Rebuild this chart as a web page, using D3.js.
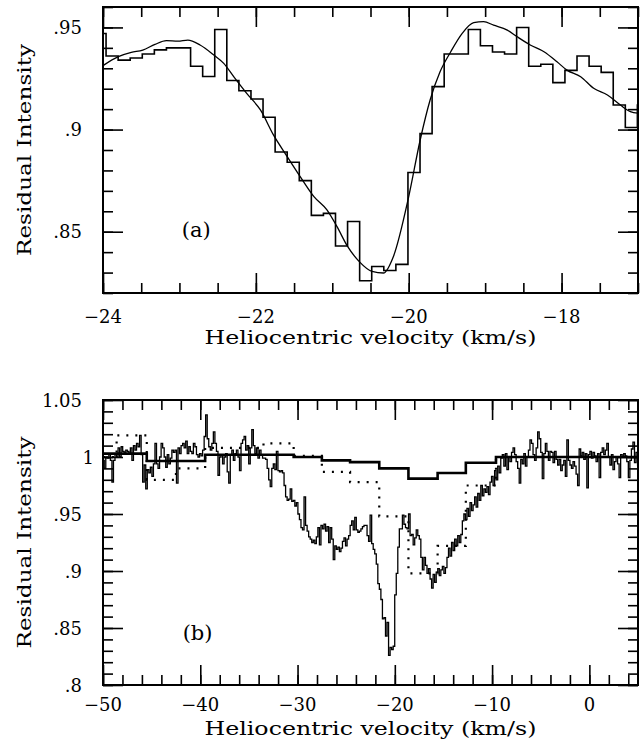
<!DOCTYPE html>
<html>
<head>
<meta charset="utf-8">
<script src="https://cdn.jsdelivr.net/npm/d3@7"></script>
<style>
body { margin: 0; background: #fff; }
svg { display: block; }
text { font-family: "DejaVu Serif", serif; fill: #000; }
</style>
</head>
<body>
<svg id="chart" width="640" height="740"></svg>
<script>
// observed spectrum: pixel left edges start at obsStart, one pixel = obsStep km/s
const obsStart = -50.03;
const obsStep = 0.158;
const obs = [
  0.997, 0.990, 1.000, 0.999, 1.003, 0.997, 0.978, 0.997, 1.003, 1.000,
  1.008, 1.000, 1.009, 1.005, 1.003, 1.006, 1.005, 1.003, 1.008, 0.997,
  1.010, 1.006, 1.012, 1.009, 1.019, 1.002, 0.978, 0.993, 0.972, 0.989,
  0.986, 0.991, 0.983, 0.994, 1.012, 0.994, 0.990, 1.000, 1.012, 1.008,
  1.000, 0.991, 1.002, 0.994, 0.999, 1.006, 1.004, 1.006, 0.977, 1.008,
  1.003, 1.010, 1.012, 1.008, 1.014, 1.003, 1.009, 1.005, 1.003, 1.012,
  1.009, 1.002, 1.000, 1.003, 1.001, 1.006, 1.018, 1.037, 1.016, 1.009,
  1.006, 1.012, 1.022, 1.012, 1.005, 0.984, 1.000, 1.002, 0.994, 1.000,
  1.003, 0.987, 0.977, 1.002, 1.006, 0.997, 1.003, 1.006, 1.000, 0.988,
  1.012, 1.015, 1.018, 1.006, 1.010, 0.994, 1.008, 1.024, 1.010, 1.003,
  1.008, 0.999, 1.006, 1.002, 0.999, 0.999, 0.998, 0.990, 0.980, 0.974,
  0.990, 0.994, 0.989, 1.005, 0.988, 0.987, 0.988, 0.986, 0.975, 0.965,
  0.962, 0.963, 0.972, 0.961, 0.962, 0.957, 0.960, 0.950, 0.945, 0.938,
  0.936, 0.965, 0.940, 0.935, 0.930, 0.928, 0.925, 0.927, 0.924, 0.930,
  0.938, 0.923, 0.940, 0.937, 0.941, 0.935, 0.939, 0.925, 0.938, 0.928,
  0.910, 0.922, 0.919, 0.921, 0.917, 0.920, 0.926, 0.929, 0.922, 0.928,
  0.931, 0.940, 0.944, 0.936, 0.947, 0.936, 0.934, 0.935, 0.937, 0.939,
  0.940, 0.940, 0.931, 0.926, 0.949, 0.924, 0.919, 0.915, 0.906, 0.889,
  0.884, 0.875, 0.858, 0.859, 0.843, 0.855, 0.826, 0.833, 0.831, 0.834,
  0.879, 0.898, 0.921, 0.937, 0.937, 0.949, 0.941, 0.938, 0.937, 0.950,
  0.931, 0.932, 0.923, 0.929, 0.936, 0.931, 0.928, 0.912, 0.901, 0.912,
  0.905, 0.898, 0.902, 0.893, 0.885, 0.897, 0.890, 0.899, 0.902, 0.896,
  0.901, 0.904, 0.898, 0.903, 0.912, 0.920, 0.913, 0.925, 0.918, 0.928,
  0.922, 0.931, 0.925, 0.932, 0.944, 0.950, 0.945, 0.955, 0.948, 0.960,
  0.953, 0.958, 0.965, 0.956, 0.968, 0.962, 0.975, 0.966, 0.972, 0.969,
  0.974, 0.967, 0.978, 0.983, 0.975, 0.988, 0.980, 0.992, 0.986, 0.999,
  1.002, 0.992, 1.003, 0.989, 1.000, 0.996, 1.004, 1.008, 1.002, 0.996,
  0.990, 0.977, 0.998, 0.994, 1.003, 0.992, 1.000, 1.006, 1.015, 1.012,
  1.002, 0.997, 1.008, 1.022, 1.016, 1.004, 0.981, 1.003, 1.012, 1.005,
  0.997, 1.005, 1.004, 0.995, 1.005, 0.998, 0.993, 0.998, 0.988, 0.993,
  0.997, 0.983, 1.015, 0.997, 0.993, 0.990, 0.996, 0.992, 0.985, 0.975,
  1.007, 1.001, 1.004, 0.998, 1.003, 0.973, 1.002, 1.005, 0.999, 1.004,
  1.001, 0.996, 1.003, 0.982, 1.004, 1.008, 1.002, 1.006, 1.012, 1.000,
  0.993, 1.002, 0.989, 0.996, 1.000, 0.994, 0.982, 1.002, 1.000, 1.003,
  1.001, 0.996, 0.982, 0.997, 1.007, 1.013, 0.995, 1.004, 0.993
];

// smooth model profile, panel (a)
const modelVel = [-24.0, -23.80, -23.63, -23.48, -23.32, -23.17, -23.02, -22.89, -22.73, -22.55,
  -22.42, -22.29, -22.12, -21.94, -21.77, -21.59, -21.42, -21.24, -21.07, -20.94,
  -20.80, -20.65, -20.48, -20.33, -20.20, -20.00, -19.85, -19.72, -19.59, -19.45,
  -19.30, -19.15, -19.02, -18.89, -18.71, -18.58, -18.41, -18.23, -18.06, -17.93,
  -17.75, -17.58, -17.40, -17.23, -17.10, -17.0];
const modelInt = [0.9313, 0.9357, 0.9378, 0.9389, 0.9417, 0.9435, 0.9433, 0.9438, 0.9414, 0.9365,
  0.9324, 0.9259, 0.9177, 0.9096, 0.8974, 0.8868, 0.8770, 0.8672, 0.8607, 0.8526,
  0.8428, 0.8355, 0.8306, 0.8298, 0.8379, 0.8672, 0.8949, 0.9145, 0.9283, 0.9381,
  0.9471, 0.9523, 0.9528, 0.9511, 0.9487, 0.9454, 0.9414, 0.9381, 0.9332, 0.9291,
  0.9259, 0.9202, 0.9169, 0.9120, 0.9088, 0.9080];

// coarse step profiles, panel (b)
const solidEdges = [-50, -45.5, -39.5, -30.4, -27.5, -24.6, -21.6, -18.6, -15.6, -12.7, -9.6, 5];
const solidInt = [1.003, 0.9965, 1.002, 1.000, 0.997, 0.9955, 0.990, 0.981, 0.986, 0.995, 1.000];
const dotEdges = [-50, -48.6, -45.5, -42.5, -39.5, -33.5, -30.4, -27.5, -24.6, -21.6, -18.6, -15.6, -12.7, -9.6, 5];
const dotInt = [1.000, 1.019, 0.980, 0.990, 1.008, 1.012, 1.001, 0.987, 0.978, 0.948, 0.898, 0.922, 0.975, 1.000];

// axes
const aXTicks = [-24, -22, -20, -18];
const aXLabels = ["\u221224", "\u221222", "\u221220", "\u221218"];
const aYTicks = [0.85, 0.9, 0.95];
const aYLabels = [".85", ".9", ".95"];
const bXTicks = [-50, -40, -30, -20, -10, 0];
const bXLabels = ["\u221250", "\u221240", "\u221230", "\u221220", "\u221210", "0"];
const bYTicks = [0.8, 0.85, 0.9, 0.95, 1, 1.05];
const bYLabels = [".8", ".85", ".9", ".95", "1", "1.05"];

const svg = d3.select("#chart");

function steps(edges, vals) {
  const pts = vals.map((v, i) => [edges[i], v]);
  pts.push([edges[edges.length - 1], vals[vals.length - 1]]);
  return pts;
}

const obsPts = obs.map((v, i) => [obsStart + i * obsStep, v]);
obsPts.push([obsStart + obs.length * obsStep, obs[obs.length - 1]]);

function panel(c) {
  const x = d3.scaleLinear().domain(c.xDomain).range([c.left, c.right]);
  const y = d3.scaleLinear().domain(c.yDomain).range([c.bottom, c.top]);
  const g = svg.append("g");

  svg.append("clipPath").attr("id", "clip" + c.name)
    .append("rect")
    .attr("x", c.left).attr("y", c.top)
    .attr("width", c.right - c.left).attr("height", c.bottom - c.top);
  const plot = g.append("g").attr("clip-path", `url(#clip${c.name})`);

  function tickSet(make, tr, values, size) {
    g.append("g").attr("transform", tr)
      .call(make().tickValues(values).tickSize(-size).tickFormat(() => ""))
      .call(s => s.select(".domain").remove())
      .selectAll("line").attr("stroke", "#000").attr("stroke-width", 1.6);
  }
  const sides = [
    [() => d3.axisBottom(x), `translate(0,${c.bottom})`, c.xMinor, c.xTicks],
    [() => d3.axisTop(x), `translate(0,${c.top})`, c.xMinor, c.xTicks],
    [() => d3.axisLeft(y), `translate(${c.left},0)`, c.yMinor, c.yTicks],
    [() => d3.axisRight(y), `translate(${c.right},0)`, c.yMinor, c.yTicks]
  ];
  for (const [make, tr, minor, major] of sides) {
    tickSet(make, tr, minor, 10);
    tickSet(make, tr, major, 20);
  }

  g.append("rect")
    .attr("x", c.left).attr("y", c.top)
    .attr("width", c.right - c.left).attr("height", c.bottom - c.top)
    .attr("fill", "none").attr("stroke", "#000").attr("stroke-width", 2);

  g.selectAll(".xl").data(c.xTicks).join("text")
    .attr("x", d => x(d)).attr("y", c.bottom + c.tickGap)
    .attr("text-anchor", "middle").attr("font-size", 18)
    .text((d, i) => c.xLabels[i]);
  g.selectAll(".yl").data(c.yTicks).join("text")
    .attr("x", (d, i) => c.left - 21 + (c.yLabels[i] === "1" ? 12 : 0))
    .attr("y", d => y(d) + 6.5)
    .attr("text-anchor", "end").attr("font-size", 18)
    .text((d, i) => c.yLabels[i]);

  g.append("text")
    .attr("x", (c.left + c.right) / 2).attr("y", c.bottom + c.titleGap)
    .attr("text-anchor", "middle").attr("font-size", 19)
    .attr("textLength", 332).attr("lengthAdjust", "spacingAndGlyphs")
    .text("Heliocentric velocity (km/s)");
  g.append("text")
    .attr("transform", `translate(31,${(c.top + c.bottom) / 2}) rotate(-90)`)
    .attr("text-anchor", "middle").attr("font-size", 19)
    .attr("textLength", 212).attr("lengthAdjust", "spacingAndGlyphs")
    .text("Residual Intensity");

  g.append("text")
    .attr("x", x(c.tag[0])).attr("y", y(c.tag[1]))
    .attr("text-anchor", "middle").attr("font-size", 21)
    .text(c.tag[2]);

  return { x, y, plot };
}

const pa = panel({
  name: "a", left: 103, right: 638, top: 7, bottom: 293, tickGap: 30, titleGap: 51,
  xDomain: [-24, -17], yDomain: [0.82, 0.96],
  xTicks: aXTicks, xLabels: aXLabels, xMinor: d3.range(-24, -16.99, 0.5),
  yTicks: aYTicks, yLabels: aYLabels, yMinor: d3.range(0.82, 0.9601, 0.01),
  tag: [-22.78, 0.8475, "(a)"]
});

const lineA = d3.line().x(d => pa.x(d[0])).y(d => pa.y(d[1]));
pa.plot.append("path")
  .attr("d", lineA.curve(d3.curveStepAfter)(obsPts))
  .attr("fill", "none").attr("stroke", "#000").attr("stroke-width", 1.6);
pa.plot.append("path")
  .attr("d", d3.line().x(d => pa.x(d[0])).y(d => pa.y(d[1])).curve(d3.curveMonotoneX)(modelVel.map((v, i) => [v, modelInt[i]])))
  .attr("fill", "none").attr("stroke", "#000").attr("stroke-width", 1.3);

const pb = panel({
  name: "b", left: 103, right: 638, top: 400, bottom: 685, tickGap: 26, titleGap: 50,
  xDomain: [-50, 5], yDomain: [0.8, 1.05],
  xTicks: bXTicks, xLabels: bXLabels, xMinor: d3.range(-50, 5.01, 2),
  yTicks: bYTicks, yLabels: bYLabels, yMinor: d3.range(0.8, 1.0501, 0.01),
  tag: [-40.28, 0.8395, "(b)"]
});

const stepB = d3.line().x(d => pb.x(d[0])).y(d => pb.y(d[1])).curve(d3.curveStepAfter);
pb.plot.append("path")
  .attr("d", stepB(obsPts))
  .attr("fill", "none").attr("stroke", "#000").attr("stroke-width", 1.3);
pb.plot.append("path")
  .attr("d", stepB(steps(dotEdges, dotInt)))
  .attr("fill", "none").attr("stroke", "#000").attr("stroke-width", 2.2)
  .attr("stroke-dasharray", "2,7");
pb.plot.append("path")
  .attr("d", stepB(steps(solidEdges, solidInt)))
  .attr("fill", "none").attr("stroke", "#000").attr("stroke-width", 2.6);
</script>
</body>
</html>
